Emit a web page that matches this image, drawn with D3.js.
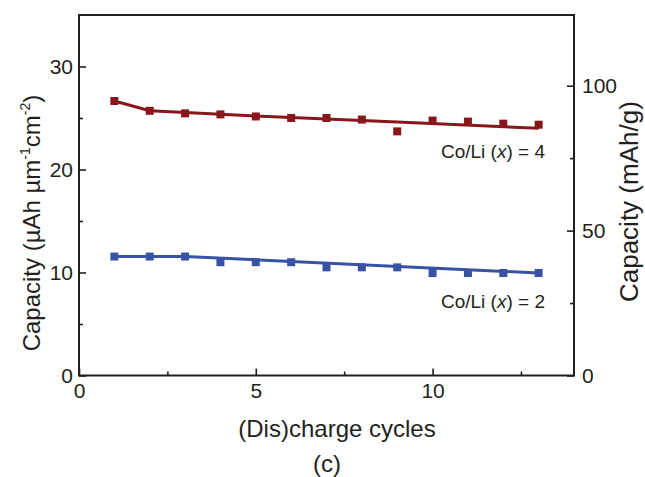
<!DOCTYPE html>
<html>
<head>
<meta charset="utf-8">
<script src="https://cdn.jsdelivr.net/npm/d3@7"></script>
<style>
  body { margin: 0; background: #fff; }
  svg text { font-family: "Liberation Sans", Arial, sans-serif; fill: #231f20; }
</style>
</head>
<body>
<div id="main_div"></div>
<script>
var WIDTH = 645;
var HEIGHT = 477;
var MARGIN = {left: 79, top: 15, right: 71, bottom: 101.5};

// cycles and capacities (µAh µm^-1 cm^-2)
var cycles = [1, 2, 3, 4, 5, 6, 7, 8, 9, 10, 11, 12, 13];
var capacityX4 = [26.65, 25.7, 25.45, 25.35, 25.15, 25.0, 25.0, 24.85, 23.7, 24.75, 24.65, 24.45, 24.35];
var capacityX2 = [11.55, 11.55, 11.55, 11.0, 11.0, 11.0, 10.5, 10.5, 10.5, 9.95, 9.95, 9.95, 9.95];

// fitted trend lines
var fitX4Cycles = [1, 2, 5, 9, 13];
var fitX4Values = [26.65, 25.7, 25.2, 24.6, 24.0];
var fitX2Cycles = [1, 3, 13];
var fitX2Values = [11.55, 11.55, 9.95];

var xTicks = [0, 5, 10];
var xMinorTicks = [2.5, 7.5, 12.5];
var yTicks = [0, 10, 20, 30];
var yMinorTicks = [5, 15, 25];
var y2Ticks = [0, 50, 100];
var y2MinorTicks = [25, 75];

var RED = "#87171a";
var BLUE = "#3953a4";
var INK = "#231f20";

function drawChart() {
  var svg = d3.select("#main_div").append("svg")
              .attr("width", WIDTH)
              .attr("height", HEIGHT);

  var x = d3.scaleLinear().domain([0, 14])
            .range([MARGIN.left, WIDTH - MARGIN.right]);
  var y = d3.scaleLinear().domain([0, 35])
            .range([HEIGHT - MARGIN.bottom, MARGIN.top]);
  var y2 = d3.scaleLinear().domain([0, 124.4])
            .range([HEIGHT - MARGIN.bottom, MARGIN.top]);

  // Frame
  svg.append("rect")
      .attr("x", x(0)).attr("y", y(35))
      .attr("width", x(14) - x(0)).attr("height", y(0) - y(35))
      .style("fill", "none").style("stroke", INK).style("stroke-width", 2);

  // Axes with inward ticks
  function styleAxis(g) {
    g.select(".domain").remove();
    g.selectAll(".tick line").style("stroke", INK).style("stroke-width", 1.6);
    g.selectAll(".tick text").style("font-size", "21px").style("fill", INK)
      .style("font-family", "'Liberation Sans', Arial, sans-serif");
  }

  svg.append("g").attr("transform", "translate(0," + y(0) + ")")
      .call(d3.axisBottom(x).tickValues(xTicks).tickSizeInner(-7).tickSizeOuter(0).tickPadding(8))
      .call(styleAxis);
  svg.append("g").attr("transform", "translate(0," + y(0) + ")")
      .call(d3.axisBottom(x).tickValues(xMinorTicks).tickSizeInner(-4).tickSizeOuter(0).tickFormat(""))
      .call(styleAxis);

  svg.append("g").attr("transform", "translate(" + x(0) + ",0)")
      .call(d3.axisLeft(y).tickValues(yTicks).tickSizeInner(-7).tickSizeOuter(0).tickPadding(6))
      .call(styleAxis);
  svg.append("g").attr("transform", "translate(" + x(0) + ",0)")
      .call(d3.axisLeft(y).tickValues(yMinorTicks).tickSizeInner(-4).tickSizeOuter(0).tickFormat(""))
      .call(styleAxis);

  svg.append("g").attr("transform", "translate(" + x(14) + ",0)")
      .call(d3.axisRight(y2).tickValues(y2Ticks).tickSizeInner(-7).tickSizeOuter(0).tickPadding(8))
      .call(styleAxis);
  svg.append("g").attr("transform", "translate(" + x(14) + ",0)")
      .call(d3.axisRight(y2).tickValues(y2MinorTicks).tickSizeInner(-4).tickSizeOuter(0).tickFormat(""))
      .call(styleAxis);

  // Series
  var series = [
    {fx: fitX4Cycles, fy: fitX4Values, py: capacityX4, color: RED},
    {fx: fitX2Cycles, fy: fitX2Values, py: capacityX2, color: BLUE}
  ];

  var line = d3.line()
               .x(function(d) { return x(d[0]); })
               .y(function(d) { return y(d[1]); });

  series.forEach(function(s) {
    svg.append("path")
        .datum(d3.zip(s.fx, s.fy))
        .attr("d", line)
        .style("fill", "none")
        .style("stroke", s.color)
        .style("stroke-width", 3);

    svg.append("g").selectAll("rect")
        .data(d3.zip(cycles, s.py)).enter()
      .append("rect")
        .attr("x", function(d) { return x(d[0]) - 4; })
        .attr("y", function(d) { return y(d[1]) - 4; })
        .attr("width", 8).attr("height", 8)
        .style("fill", s.color);
  });

  // Series labels
  var labels = [{text: "4", yv: 21.1}, {text: "2", yv: 6.6}];
  labels.forEach(function(l) {
    var t = svg.append("text")
        .attr("x", x(13.18))
        .attr("y", y(l.yv))
        .attr("text-anchor", "end")
        .style("font-size", "19px");
    t.append("tspan").text("Co/Li (");
    t.append("tspan").style("font-style", "italic").text("x");
    t.append("tspan").text(") = " + l.text);
  });

  // Axis titles
  svg.append("text")
      .attr("x", 337).attr("y", 437)
      .attr("text-anchor", "middle")
      .style("font-size", "24px")
      .text("(Dis)charge cycles");

  svg.append("text")
      .attr("x", 327).attr("y", 472)
      .attr("text-anchor", "middle")
      .style("font-size", "24px")
      .text("(c)");

  var leftTitle = svg.append("text")
      .attr("transform", "translate(40," + y(14.8) + ") rotate(-90)")
      .attr("text-anchor", "middle")
      .style("font-size", "24px");
  leftTitle.append("tspan").text("Capacity (µAh µm");
  leftTitle.append("tspan").attr("dy", -10).style("font-size", "14px").text("-1");
  leftTitle.append("tspan").attr("dy", 10).text("cm");
  leftTitle.append("tspan").attr("dy", -10).style("font-size", "14px").text("-2");
  leftTitle.append("tspan").attr("dy", 10).text(")");

  svg.append("text")
      .attr("transform", "translate(638," + y2(60) + ") rotate(-90)")
      .attr("text-anchor", "middle")
      .style("font-size", "26px")
      .text("Capacity (mAh/g)");
}

drawChart();
</script>
</body>
</html>
